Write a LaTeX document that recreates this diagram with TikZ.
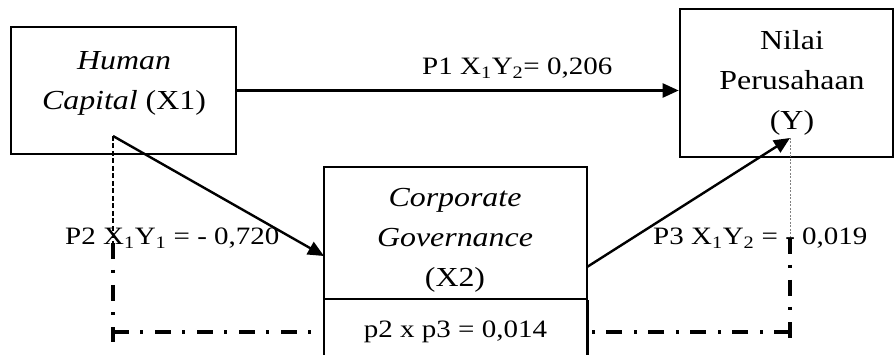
\documentclass[tikz,border=0pt]{standalone}
\usepackage{fontspec}
\setmainfont{Liberation Serif}
\usepackage{graphicx}
\usetikzlibrary{arrows.meta}
\newcommand\sx[1]{\scalebox{1.16}[1]{#1}}
\newcommand\bt[1]{\sx{\begin{tabular}{@{}c@{}}#1\end{tabular}}}
\newcommand\sbs[1]{\textsubscript{#1}}
\begin{document}
\begin{tikzpicture}[x=1pt,y=-1pt,
  box/.style={draw, line width=2.6pt, inner sep=0pt},
  boxtext/.style={font=\fontsize{27.5}{40}\selectfont, inner sep=0pt},
  lab/.style={font=\fontsize{25}{30}\selectfont, inner sep=0pt},
  arr/.style={line width=2.4pt, -{Triangle[length=16pt,width=14pt]}},
  dashdot/.style={line width=3.7pt, dash pattern=on 16pt off 11pt on 3pt off 12pt},
  thindash/.style={line width=1.6pt, dash pattern=on 5pt off 2.5pt},
  thindot/.style={line width=1pt, gray, dash pattern=on 2pt off 1.5pt}]
\clip (0,0) rectangle (894,355);
\fill[white] (0,0) rectangle (894,355);

% boxes
\node[box, minimum width=225pt, minimum height=127pt] (hc) at (123.5,90.5) {};
\node[box, minimum width=213pt, minimum height=148pt] (yv) at (786.5,83) {};
\node[box, minimum width=263pt, minimum height=132pt] (cg) at (455.5,233) {};
\node[inner sep=0pt, minimum width=263pt, minimum height=80pt, anchor=north] (ind) at (cg.south) {};
\draw[line width=2.6pt] (ind.north west) -- (ind.south west);
\draw[line width=2.6pt] (ind.north east) -- (ind.south east);

% box texts
\node[boxtext] (hct) at (124,82) {\bt{\textit{Human}\\\textit{Capital} (X1)}};
\node[boxtext] (yvt) at (792,82) {\bt{Nilai\\Perusahaan\\(Y)}};
\node[boxtext] (cgt) at (455,239) {\bt{\textit{Corporate}\\\textit{Governance}\\(X2)}};

% coordinates
\coordinate (hcin) at (113,136);
\coordinate (cgin) at (324,256);
\coordinate (cgout) at (587,267);
\coordinate (yin) at (790,138);
\coordinate (lt) at (113,243);
\coordinate (lb) at (113,342);
\coordinate (lc) at (113,332);
\coordinate (rt) at (790,238);
\coordinate (rb) at (790,342);
\coordinate (rc) at (790,332);

% indirect path lines
\draw[thindash] (hcin) -- (lt);
\draw[thindot] (yin) -- (rt);
\draw[dashdot] (lt) -- (lb);
\draw[dashdot] (lc) -- (lc -| ind.west);
\draw[dashdot] (rt) -- (rb);
\draw[dashdot] (rc) -- (rc -| ind.east);

% arrows
\draw[arr] (hc.east) -- (hc.east -| yv.west);
\draw[arr] (hcin) -- (cgin);
\draw[arr] (cgout) -- (yin);

% labels
\node[lab, anchor=base west] (p1) at (422,75) {\sx{P1 X\sbs{1}Y\sbs{2}= 0,206}};
\node[lab, anchor=base west] (p2) at (65,245) {\sx{P2 X\sbs{1}Y\sbs{1} = - 0,720}};
\node[lab, anchor=base west] (p3) at (653,245) {\sx{P3 X\sbs{1}Y\sbs{2} = - 0,019}};
\node[lab, anchor=base] (p23) at (455.5,337) {\sx{p2 x p3 = 0,014}};
\end{tikzpicture}
\end{document}
